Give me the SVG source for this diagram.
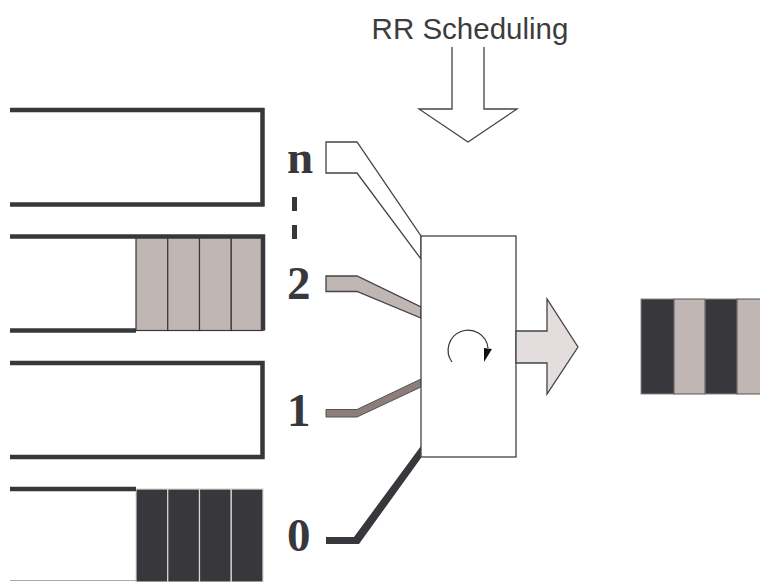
<svg xmlns="http://www.w3.org/2000/svg" width="760" height="582" viewBox="0 0 760 582">
<style>
.q{fill:none;stroke:#38373b;stroke-width:4.5}
.lab{font-family:"Liberation Serif",serif;font-weight:bold;font-size:47px;fill:#38373b}
.lc{fill:#c0b7b4;stroke:#38373b;stroke-width:1.2}
.dc{fill:#38373b;stroke:#d8d8d8;stroke-width:1.2}
.thin{stroke:#444;stroke-width:1.3}
</style>
<rect width="760" height="582" fill="#fff"/>
<g id="title">
<text x="470" y="39" text-anchor="middle" font-family="Liberation Sans, Arial, sans-serif" font-size="29.5" fill="#3c3c3e">RR Scheduling</text>
</g>
<g id="sched-arrow">
<path d="M452,47 V109 H419 L468,142 L517,109 H484 V47" fill="#fff" class="thin"/>
</g>
<g id="queue-n">
<path class="q" d="M10,110 H262.5 V204.5 H10"/>
</g>
<g id="queue-2">
<rect class="lc" x="136" y="236.5" width="31.75" height="94"/>
<rect class="lc" x="167.75" y="236.5" width="31.75" height="94"/>
<rect class="lc" x="199.5" y="236.5" width="31.75" height="94"/>
<rect class="lc" x="231.25" y="236.5" width="31.75" height="94"/>
<path class="q" d="M10,236.5 H263 V330.5"/>
<path class="q" d="M10,330.5 H136"/>
</g>
<g id="queue-1">
<path class="q" d="M10,363 H262.5 V457 H10"/>
</g>
<g id="queue-0">
<rect class="dc" x="136" y="489" width="31.75" height="93"/>
<rect class="dc" x="167.75" y="489" width="31.75" height="93"/>
<rect class="dc" x="199.5" y="489" width="31.75" height="93"/>
<rect class="dc" x="231.25" y="489" width="31.75" height="93"/>
<path class="q" d="M10,489 H136"/>
<path d="M10,580.5 H136" stroke="#aaa" stroke-width="1.2"/>
</g>
<g id="labels">
<text class="lab" x="287" y="173">n</text>
<path d="M294.5,197 V239" stroke="#38373b" stroke-width="5" stroke-dasharray="14 14"/>
<text class="lab" x="287" y="299">2</text>
<text class="lab" x="287" y="426">1</text>
<text class="lab" x="287" y="551">0</text>
</g>
<g id="connectors">
<polygon points="326,142 357,142 421,236 421,259 357,173 326,173" fill="#fff" class="thin"/>
<polygon points="326,276 357,276 421,307 421,318 357,291.5 326,291.5" fill="#c0b7b4" class="thin"/>
<polygon points="326,409.5 357,409.5 421,379 421,387 357,417 326,417" fill="#8c7e7a" stroke="#5a5050" stroke-width="1"/>
<polygon points="326,537 354,537 421,446 421,458 359,544 326,544" fill="#38373b"/>
</g>
<g id="scheduler">
<rect x="421" y="236" width="95" height="221" fill="#fff" class="thin"/>
<path d="M452,362 A20,20 0 1 1 488,348" fill="none" stroke="#333" stroke-width="1.2"/>
<polygon points="484,348 492,349 484,362" fill="#111"/>
</g>
<g id="out-arrow">
<path d="M516,331 H547 V299 L578,347 L547,394 V363 H516 Z" fill="#e3dedd" class="thin"/>
</g>
<g id="output">
<rect x="641" y="299" width="33" height="95" fill="#38373b" stroke="#888" stroke-width="1"/>
<rect x="674" y="299" width="31" height="95" fill="#c0b7b4" stroke="#555" stroke-width="1"/>
<rect x="705" y="299" width="32" height="95" fill="#38373b" stroke="#888" stroke-width="1"/>
<rect x="737" y="299" width="30" height="95" fill="#c0b7b4" stroke="#555" stroke-width="1"/>
</g>
</svg>
